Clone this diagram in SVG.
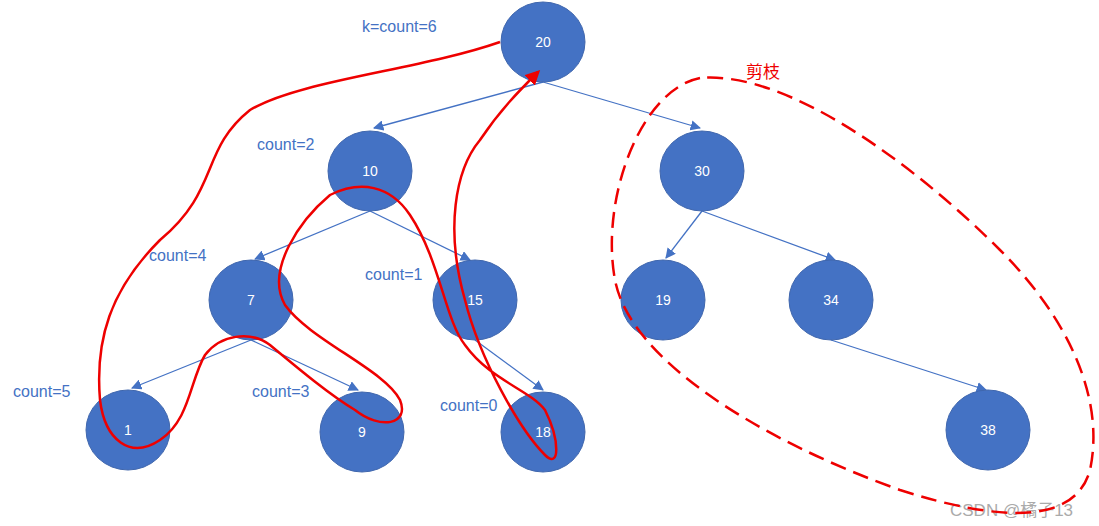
<svg xmlns="http://www.w3.org/2000/svg" width="1099" height="526" viewBox="0 0 1099 526">
<style>
.n{fill:#4472c4;stroke:#3f66ad;stroke-width:1}
.t{font-family:"Liberation Sans",Arial,sans-serif;font-size:14px;fill:#fff;text-anchor:middle}
.l{font-family:"Liberation Sans",Arial,sans-serif;font-size:16px;fill:#4472c4}
.e{stroke:#4472c4;stroke-width:1.3;fill:none;marker-end:url(#a)}
</style>
<defs>
<marker id="a" viewBox="0 0 10 10" refX="9" refY="5" markerWidth="8" markerHeight="8" orient="auto"><path d="M0,0L10,5L0,10z" fill="#4472c4"/></marker>
<marker id="r" viewBox="0 0 10 10" refX="8" refY="5" markerWidth="6" markerHeight="6" orient="auto"><path d="M0,0L10,5L0,10z" fill="#e00"/></marker>
</defs>
<g id="connectors">
<line class="e" x1="543" y1="82" x2="374" y2="128"/>
<line class="e" x1="543" y1="82" x2="700" y2="128"/>
<line class="e" x1="370" y1="211" x2="255" y2="259"/>
<line class="e" x1="370" y1="211" x2="470" y2="260"/>
<line class="e" x1="702" y1="211" x2="666" y2="258"/>
<line class="e" x1="702" y1="211" x2="835" y2="260"/>
<line class="e" x1="251" y1="340" x2="132" y2="388"/>
<line class="e" x1="251" y1="340" x2="358" y2="390"/>
<line class="e" x1="475" y1="340" x2="543" y2="390"/>
<line class="e" x1="831" y1="340" x2="986" y2="390"/>
</g>
<g id="n20"><ellipse class="n" cx="543" cy="42" rx="42" ry="40"/><text class="t" x="543" y="47">20</text></g>
<g id="n10"><ellipse class="n" cx="370" cy="171" rx="42" ry="40"/><text class="t" x="370" y="176">10</text></g>
<g id="n30"><ellipse class="n" cx="702" cy="171" rx="42" ry="40"/><text class="t" x="702" y="176">30</text></g>
<g id="n7"><ellipse class="n" cx="251" cy="300" rx="42" ry="40"/><text class="t" x="251" y="305">7</text></g>
<g id="n15"><ellipse class="n" cx="475" cy="300" rx="42" ry="40"/><text class="t" x="475" y="305">15</text></g>
<g id="n19"><ellipse class="n" cx="663" cy="300" rx="42" ry="40"/><text class="t" x="663" y="305">19</text></g>
<g id="n34"><ellipse class="n" cx="831" cy="300" rx="42" ry="40"/><text class="t" x="831" y="305">34</text></g>
<g id="n1"><ellipse class="n" cx="128" cy="430" rx="42" ry="40"/><text class="t" x="128" y="435">1</text></g>
<g id="n9"><ellipse class="n" cx="362" cy="432" rx="42" ry="40"/><text class="t" x="362" y="437">9</text></g>
<g id="n18"><ellipse class="n" cx="543" cy="432" rx="42" ry="40"/><text class="t" x="543" y="437">18</text></g>
<g id="n38"><ellipse class="n" cx="988" cy="430" rx="42" ry="40"/><text class="t" x="988" y="435">38</text></g>
<g id="labels">
<text class="l" x="362" y="32">k=count=6</text>
<text class="l" x="257" y="150">count=2</text>
<text class="l" x="149" y="261">count=4</text>
<text class="l" x="365" y="280">count=1</text>
<text class="l" x="13" y="397">count=5</text>
<text class="l" x="252" y="397">count=3</text>
<text class="l" x="440" y="411">count=0</text>
<text x="746" y="78" style="font-family:'Noto Sans CJK SC',sans-serif;font-size:17px;fill:#e00">剪枝</text>
<text x="950" y="516" style="font-family:'Liberation Sans','Noto Sans CJK SC',sans-serif;font-size:17px;fill:#aaa">CSDN @橘子13</text>
</g>
<g id="trace" fill="none" stroke="#e00" stroke-width="2.5">
<path marker-end="url(#r)" d="M500,42 C420,70 300,80 250,110 C200,150 220,190 160,240 C110,290 95,340 100,400 C105,440 130,460 160,440 C190,420 190,380 205,355 C220,335 250,330 270,345 C300,370 330,395 355,410 C380,430 410,425 400,400 C385,370 310,340 285,305 C265,270 300,220 330,195 C360,180 390,185 410,215 C440,260 445,320 465,345 C490,380 530,390 545,410 C560,440 560,470 545,455 C520,430 480,360 465,300 C445,230 455,170 480,140 C500,110 520,90 538,72"/>
<path stroke-dasharray="16 8" d="M700,78 C640,90 600,200 615,280 C630,360 760,440 900,490 C1000,522 1075,525 1090,470 C1105,400 1070,320 1000,250 C920,170 790,70 700,78Z"/>
</g>
</svg>
